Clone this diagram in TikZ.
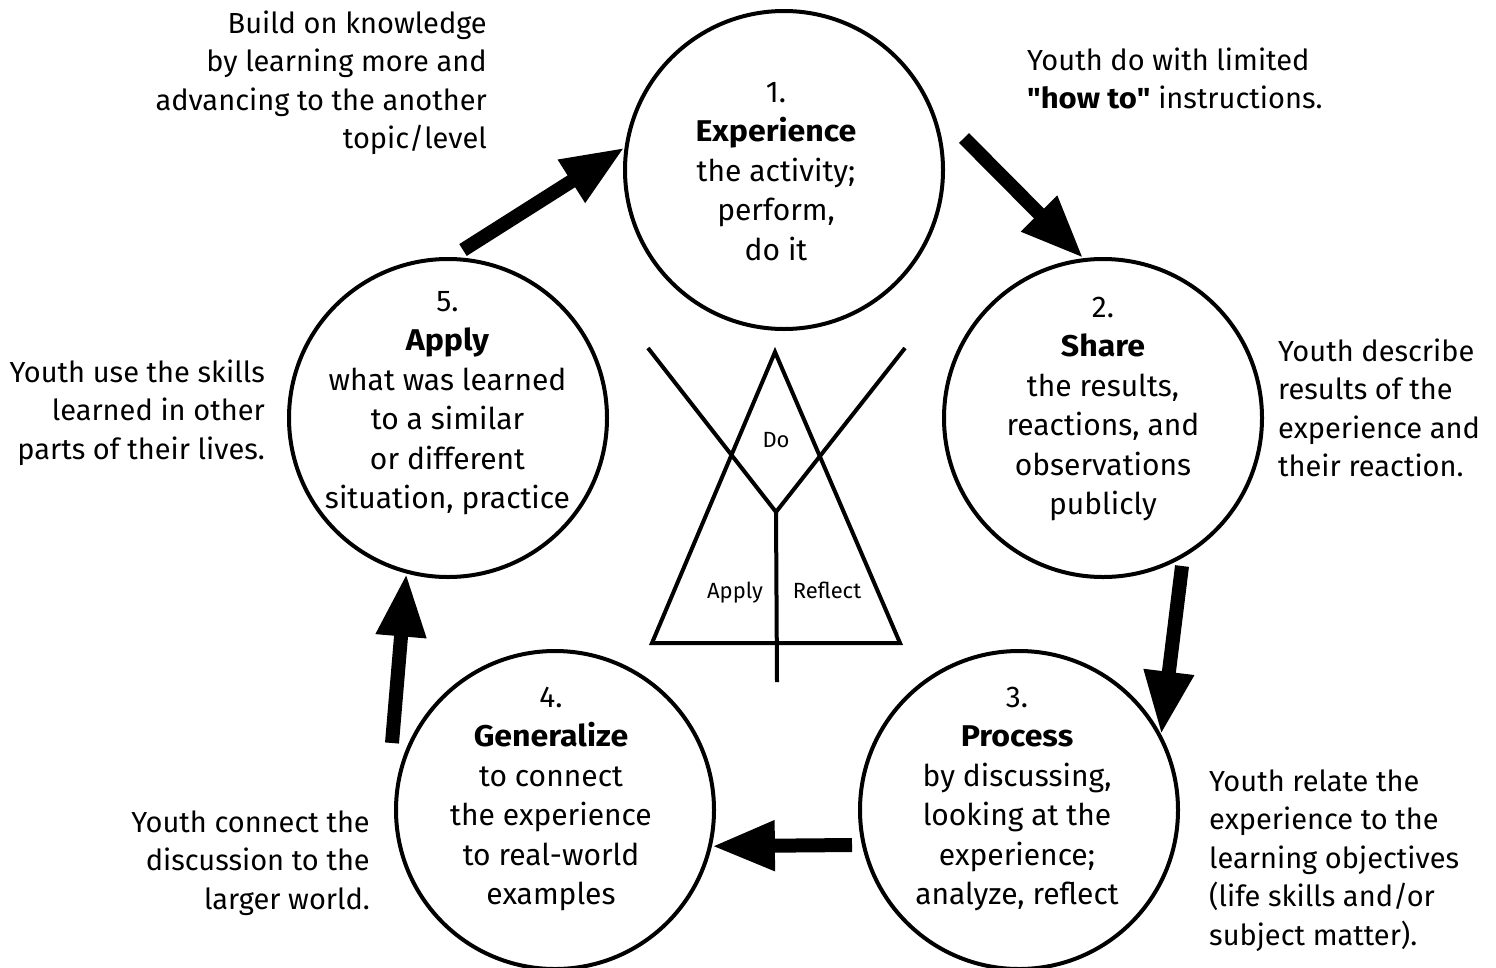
\documentclass[tikz,border=0pt]{standalone}
\usepackage{fontspec}
\setmainfont{Fira Sans}[BoldFeatures={FakeStretch=1.07}]
\newfontfamily\qfont{Fira Sans}[BoldFeatures={FakeStretch=1.07}]
\usetikzlibrary{arrows.meta}
\begin{document}
\begin{tikzpicture}[x=1pt,y=-1pt,
  stage/.style={circle, draw, line width=4pt, minimum size=318pt, inner sep=0pt},
  body/.style={align=center, inner sep=0pt, anchor=north, font=\fontsize{30}{39.5}\selectfont},
  note/.style={inner sep=0pt, font=\fontsize{29}{38.5}\selectfont},
  noteL/.style={note, align=left, anchor=north west},
  noteR/.style={note, align=right, anchor=north east},
  flow/.style={line width=14pt, -{Triangle[width=47pt,length=63pt]}},
  fig/.style={line width=4pt, line join=miter},
  small/.style={font=\fontsize{22}{26}\selectfont, inner sep=0pt, anchor=base}]
\useasboundingbox (0,0) rectangle (1496,967);

% stages
\node[stage] (c1) at (784,170) {};
\node[stage] (c2) at (1103,418) {};
\node[stage] (c3) at (1019,810) {};
\node[stage] (c4) at (555,810) {};
\node[stage] (c5) at (448,418) {};

\node[body] (t1) at (776,74.4) {\strut 1.\\ \textbf{Experience}\\ the activity;\\ perform,\\ do it};
\node[body] (t2) at (1103,289.4) {\strut 2.\\ \textbf{Share}\\ the results,\\ reactions, and\\ observations\\ publicly};
\node[body] (t3) at (1017,679.4) {\strut 3.\\ \textbf{Process}\\ by discussing,\\ looking at the\\ experience;\\ analyze, reflect};
\node[body] (t4) at (551,679.4) {\strut 4.\\ \textbf{Generalize}\\ to connect\\ the experience\\ to real-world\\ examples};
\node[body] (t5) at (447.5,283.4) {\strut 5.\\ \textbf{Apply}\\ what was learned\\ to a similar\\ or different\\ situation, practice};

% notes
\node[noteR] (n5) at (487,6) {\strut Build on knowledge\\ by learning more and\\ advancing to the another\\ topic/level};
\node[noteL] (n1) at (1027,43) {\strut Youth do with limited\\ \textbf{{\qfont "}how to{\qfont "}} instructions.};
\node[noteL] (n2) at (1278,334) {\strut Youth describe\\ results of the\\ experience and\\ their reaction.};
\node[noteR] (n5b) at (265,355) {\strut Youth use the skills\\ learned in other\\ parts of their lives.};
\node[noteR] (n4) at (370,805) {\strut Youth connect the\\ discussion to the\\ larger world.};
\node[noteL] (n3) at (1209,764) {\strut Youth relate the\\ experience to the\\ learning objectives\\ (life skills and/or\\ subject matter).};

% flow arrows
\coordinate (a51) at (463,250);
\coordinate (a12) at (964,138);
\coordinate (a23) at (1182,566);
\coordinate (a34) at (852,845);
\coordinate (a45) at (392,743);
\draw[flow] (a51) -- (c1.172);
\draw[flow] (a12) -- (c2.97.5);
\draw[flow] (a23) -- (c3.28);
\draw[flow] (a34) -- (c4.-13.5);
\draw[flow] (a45) -- (c5.-105);

% central figure
\draw[fig] (775,352) -- (900,643) -- (652,643) -- cycle;
\draw[fig] (648,348) -- (776,512) -- (905,348);
\draw[fig] (776,512) -- (777,682);
\node[small] (lDo) at (776,447) {Do};
\node[small] (lAp) at (735,598) {Apply};
\node[small] (lRe) at (827,598) {Reflect};
\end{tikzpicture}
\end{document}
